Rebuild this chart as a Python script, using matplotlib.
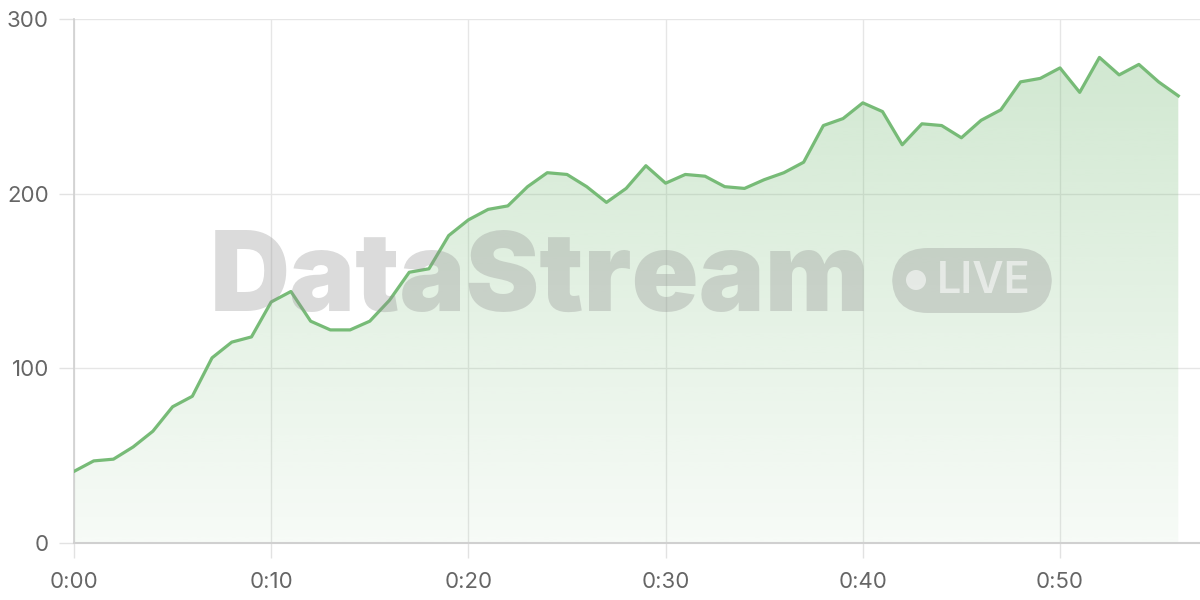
import matplotlib
matplotlib.use("Agg")
import matplotlib.pyplot as plt
import numpy as np
from matplotlib.patches import FancyBboxPatch, Ellipse, Polygon

minutes = list(range(57))
values = [41, 47, 48, 55, 64, 78, 84, 106, 115, 118,
          138, 144, 127, 122, 122, 127, 139, 155, 157, 176,
          185, 191, 193, 204, 212, 211, 204, 195, 203, 216,
          206, 211, 210, 204, 203, 208, 212, 218, 239, 243,
          252, 247, 228, 240, 239, 232, 242, 248, 264, 266,
          272, 258, 278, 268, 274, 264, 256]
xticks = [0, 10, 20, 30, 40, 50]
xticklabels = ["0:00", "0:10", "0:20", "0:30", "0:40", "0:50"]
yticks = [0, 100, 200, 300]
watermark = "DataStream"
badge = "LIVE"

W, H = 1200, 600
fig = plt.figure(figsize=(12, 6), dpi=100)
ax = fig.add_axes([74 / W, 1 - 543 / H, (1200 - 74) / W, (543 - 19) / H])
ax.set_xlim(0, 57.1)
ax.set_ylim(0, 300)

line_c = "#77bb77"
x = np.array(minutes, dtype=float)
y = np.array(values, dtype=float)

# gradient fill
verts = [(x[0], 0)] + list(zip(x, y)) + [(x[-1], 0)]
poly = Polygon(verts, closed=True, facecolor="none", edgecolor="none")
ax.add_patch(poly)
grad = np.linspace(0, 1, 256).reshape(-1, 1)
rgba = np.zeros((256, 1, 4))
rgba[..., 0] = 0x77 / 255
rgba[..., 1] = 0xbb / 255
rgba[..., 2] = 0x77 / 255
rgba[..., 3] = 0.06 + 0.30 * grad
im = ax.imshow(rgba, extent=[0, 57.1, 0, 300], origin="lower", aspect="auto",
               zorder=1, interpolation="bilinear")
im.set_clip_path(poly)

ax.plot(x, y, color=line_c, lw=2.3, zorder=5, solid_joinstyle="round")

# grid & axes styling
ax.set_xticks(xticks)
ax.set_xticklabels(xticklabels)
ax.set_yticks(yticks)
ax.grid(True, color="#e6e6e6", lw=1, zorder=0)
ax.set_axisbelow(True)
for s in ["top", "right"]:
    ax.spines[s].set_visible(False)
ax.spines["left"].set_color("#d0d0d0")
ax.spines["bottom"].set_color("#d0d0d0")
ax.spines["left"].set_linewidth(1.2)
ax.spines["bottom"].set_linewidth(1.5)
ax.tick_params(axis="both", length=11, color="#e2e2e2", width=1,
               labelsize=16, labelcolor="#666666")
ax.tick_params(axis="x", pad=10)
ax.tick_params(axis="y", pad=7)
for lab in ax.get_xticklabels() + ax.get_yticklabels():
    lab.set_fontfamily("Inter")

# watermark
fig.canvas.draw()
r = fig.canvas.get_renderer()
wm_col = "#8f8f8f"
wm = fig.text(210 / W, 1 - 311 / H, watermark, fontsize=80, fontweight="black",
              family="Inter", color=wm_col, alpha=0.32, ha="left",
              va="baseline", zorder=3)
bb = wm.get_window_extent(r)
target_w = 870 - 210
wm.set_fontsize(80 * target_w / bb.width)

bx0, by0, bx1, by1 = 892, 248, 1052, 313
bp = FancyBboxPatch((bx0 / W, 1 - by1 / H), (bx1 - bx0) / W, (by1 - by0) / H,
                    boxstyle="round,pad=0,rounding_size=0.03",
                    transform=fig.transFigure, facecolor=wm_col, alpha=0.32,
                    edgecolor="none", zorder=3,
                    mutation_aspect=2.0)
fig.add_artist(bp)
fig.add_artist(Ellipse((916 / W, 1 - 280 / H), 20 / W, 20 / H, transform=fig.transFigure,
                       facecolor="white", alpha=0.55, edgecolor="none", zorder=4))
lt = fig.text(937 / W, 1 - 293 / H, badge, fontsize=34, family="Inter",
              fontweight="semibold",
              color="white", alpha=0.55, ha="left", va="baseline", zorder=4)
bb2 = lt.get_window_extent(r)
lt.set_fontsize(34 * (1033 - 939) / bb2.width)

fig.savefig("out.png", dpi=100)
